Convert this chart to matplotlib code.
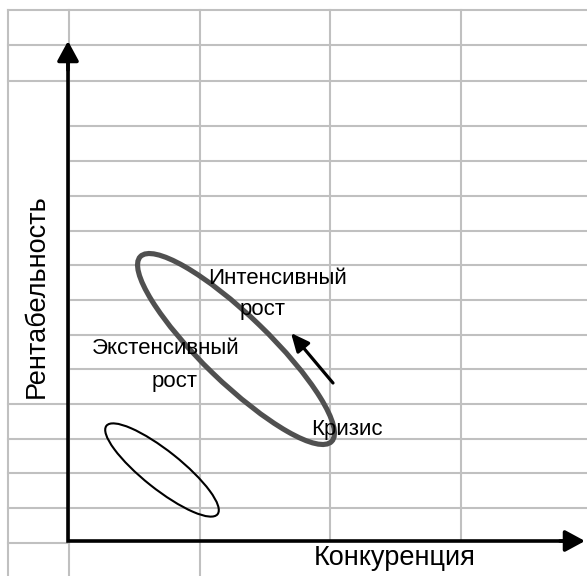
import matplotlib
matplotlib.use("Agg")
import matplotlib.pyplot as plt
from matplotlib.patches import Ellipse

plt.rcParams['font.family'] = ['Liberation Sans', 'DejaVu Sans']

# Canvas size (pixels) and grid of the "spreadsheet" background
W, H = 587, 576
grid_cols = [8, 69, 200, 330, 461]
grid_rows = [10, 45, 81, 126, 161, 196, 231, 265, 300, 335, 369, 404, 439, 473, 508, 543]

# Labels
x_label = "Конкуренция"
y_label = "Рентабельность"
zone_labels = ["Интенсивный", "рост", "Экстенсивный", "рост", "Кризис"]
zone_label_xy = [(277, 278), (263, 310), (166, 349), (175, 381), (347, 430)]

# Ellipses: centre, full width, full height, angle
big_ellipse = dict(xy=(236, 349), width=266, height=67, angle=44)
small_ellipse = dict(xy=(162, 470), width=142, height=38, angle=38.5)

GRID_COLOR = '#c0c0c0'

fig = plt.figure(figsize=(W / 100, H / 100), dpi=100)
ax = fig.add_axes([0, 0, 1, 1])
ax.set_xlim(0, W)
ax.set_ylim(H, 0)
ax.axis('off')

# grid lines
for x in grid_cols:
    y_end = 541 if x > 300 else H
    ax.plot([x, x], [grid_rows[0], y_end], color=GRID_COLOR, lw=1.5, zorder=1)
for y in grid_rows:
    if y <= 81 or 369 < y < 540:
        x0, x1 = grid_cols[0], W
    elif y >= 540:
        x0, x1 = grid_cols[0], grid_cols[1]
    else:
        x0, x1 = grid_cols[1], W
    ax.plot([x0, x1], [y, y], color=GRID_COLOR, lw=1.5, zorder=1)

# axes arrows (one L-shaped line + two heads)
ax.plot([68, 68, 572], [56, 541, 541], color='black', lw=2.6,
        solid_joinstyle='miter', solid_capstyle='butt', zorder=5)
axis_props = dict(arrowstyle='-|>,head_length=1.2,head_width=0.65', lw=2.6,
                  color='black', shrinkA=0, shrinkB=0, mutation_scale=10)
ax.annotate('', xy=(68, 41), xytext=(68, 70), arrowprops=axis_props, zorder=5)
ax.annotate('', xy=(585, 541), xytext=(560, 541), arrowprops=axis_props, zorder=5)

# ellipses
ax.add_patch(Ellipse(**big_ellipse, fill=False, edgecolor='#505050', lw=3.7, zorder=3))
ax.add_patch(Ellipse(**small_ellipse, fill=False, edgecolor='black', lw=1.5, zorder=3))

# direction arrow
ax.annotate('', xy=(291, 333), xytext=(333, 383),
            arrowprops=dict(arrowstyle='-|>,head_length=1.1,head_width=0.5', lw=2.3,
                            color='black', shrinkA=0, shrinkB=0, mutation_scale=10),
            zorder=5)

# texts
for label, (x, y) in zip(zone_labels, zone_label_xy):
    ax.text(x, y, label, fontsize=16, ha='center', va='center', zorder=4)

ax.text(395, 558, x_label, fontsize=19.5, ha='center', va='center', zorder=4)
ax.text(37, 296, y_label, fontsize=19.5, ha='center', va='center', rotation=90, zorder=4)

fig.savefig("out.png", dpi=100)
